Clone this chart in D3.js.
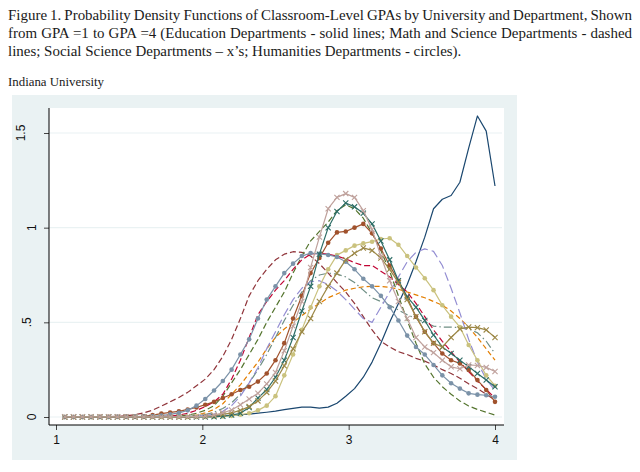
<!DOCTYPE html>
<html>
<head>
<meta charset="utf-8">
<script src="https://cdn.jsdelivr.net/npm/d3@7"></script>
<style>
  body { margin: 0; background: #fff; }
</style>
</head>
<body>
<div id="chart"></div>
<script>
// Classroom-level GPA densities, Indiana University. One array per department curve,
// all evaluated on the same GPA grid.
const captionLines = [
  "Figure 1. Probability Density Functions of Classroom-Level GPAs by University and Department, Shown",
  "from GPA =1 to GPA =4 (Education Departments - solid lines; Math and Science Departments - dashed",
  "lines; Social Science Departments \u2013 x\u2019s; Humanities Departments - circles)."
];
const panelTitle = "Indiana University";

const gpa = [1.06, 1.12, 1.18, 1.24, 1.30, 1.36, 1.42, 1.48, 1.54, 1.60,
  1.66, 1.72, 1.78, 1.84, 1.90, 1.96, 2.02, 2.08, 2.14, 2.20,
  2.26, 2.32, 2.38, 2.44, 2.50, 2.56, 2.62, 2.68, 2.74, 2.80,
  2.86, 2.92, 2.98, 3.04, 3.10, 3.16, 3.22, 3.28, 3.34, 3.40,
  3.46, 3.52, 3.58, 3.64, 3.70, 3.76, 3.82, 3.88, 3.94, 4.00];

// education (solid)
const eduA = [0, 0, 0, 0, 0, 0, 0, 0, 0, 0,
  0, 0, 0, 0, 0.001, 0.002, 0.003, 0.005, 0.007, 0.009,
  0.012, 0.015, 0.02, 0.025, 0.031, 0.039, 0.046, 0.052, 0.052, 0.047,
  0.052, 0.073, 0.11, 0.15, 0.21, 0.29, 0.39, 0.50, 0.60, 0.70,
  0.82, 0.95, 1.10, 1.15, 1.17, 1.24, 1.42, 1.59, 1.51, 1.22];

// math and science (dashed)
const sciA = [0, 0, 0, 0.001, 0.001, 0.002, 0.003, 0.006, 0.012, 0.022,
  0.036, 0.058, 0.08, 0.103, 0.13, 0.165, 0.20, 0.25, 0.32, 0.41,
  0.52, 0.64, 0.72, 0.78, 0.83, 0.86, 0.873, 0.87, 0.85, 0.81,
  0.76, 0.71, 0.66, 0.60, 0.53, 0.46, 0.40, 0.37, 0.345, 0.33,
  0.31, 0.295, 0.275, 0.25, 0.23, 0.205, 0.175, 0.15, 0.12, 0.09];
const sciB = [0, 0, 0, 0, 0, 0, 0, 0, 0, 0,
  0, 0, 0.002, 0.005, 0.01, 0.02, 0.035, 0.06, 0.11, 0.18,
  0.25, 0.33, 0.41, 0.50, 0.58, 0.66, 0.76, 0.85, 0.93, 0.98,
  1.03, 1.09, 1.12, 1.10, 1.05, 0.97, 0.88, 0.77, 0.64, 0.51,
  0.39, 0.28, 0.21, 0.16, 0.12, 0.085, 0.058, 0.04, 0.025, 0.01];
const sciC = [0, 0, 0, 0, 0, 0, 0, 0, 0, 0,
  0, 0, 0, 0, 0.004, 0.01, 0.022, 0.04, 0.07, 0.12,
  0.17, 0.23, 0.29, 0.36, 0.42, 0.465, 0.50, 0.535, 0.57, 0.60,
  0.63, 0.65, 0.67, 0.68, 0.688, 0.69, 0.69, 0.685, 0.675, 0.66,
  0.645, 0.63, 0.61, 0.59, 0.56, 0.52, 0.475, 0.42, 0.36, 0.30];
const sciD = [0, 0, 0, 0, 0, 0, 0, 0, 0, 0,
  0, 0, 0, 0, 0.003, 0.007, 0.013, 0.025, 0.045, 0.075,
  0.12, 0.18, 0.25, 0.33, 0.42, 0.51, 0.59, 0.66, 0.72, 0.75,
  0.76, 0.755, 0.74, 0.71, 0.67, 0.63, 0.61, 0.59, 0.565, 0.54,
  0.52, 0.50, 0.48, 0.475, 0.475, 0.472, 0.465, 0.445, 0.40, 0.335];
const sciE = [0, 0, 0, 0, 0, 0, 0, 0, 0, 0,
  0, 0.002, 0.005, 0.01, 0.02, 0.035, 0.055, 0.08, 0.12, 0.20,
  0.30, 0.42, 0.54, 0.61, 0.67, 0.72, 0.78, 0.83, 0.86, 0.865,
  0.86, 0.85, 0.835, 0.815, 0.80, 0.80, 0.77, 0.74, 0.70, 0.66,
  0.60, 0.53, 0.46, 0.40, 0.345, 0.29, 0.24, 0.19, 0.145, 0.10];
const sciF = [0, 0, 0, 0, 0, 0, 0, 0, 0, 0,
  0, 0, 0, 0, 0, 0.004, 0.008, 0.015, 0.03, 0.06,
  0.11, 0.18, 0.26, 0.36, 0.45, 0.54, 0.62, 0.68, 0.715, 0.72,
  0.70, 0.665, 0.62, 0.57, 0.52, 0.50, 0.58, 0.66, 0.74, 0.82,
  0.87, 0.888, 0.875, 0.80, 0.68, 0.55, 0.41, 0.29, 0.20, 0.14];

// humanities (circles)
const humA = [0, 0, 0, 0, 0, 0, 0, 0, 0, 0,
  0, 0, 0, 0, 0, 0, 0, 0.001, 0.003, 0.006,
  0.012, 0.02, 0.035, 0.06, 0.11, 0.22, 0.33, 0.46, 0.58, 0.69,
  0.78, 0.855, 0.88, 0.905, 0.917, 0.926, 0.94, 0.944, 0.91, 0.85,
  0.79, 0.733, 0.67, 0.59, 0.53, 0.475, 0.38, 0.30, 0.22, 0.165];
const humB = [0, 0, 0, 0, 0.001, 0.001, 0.001, 0.002, 0.002, 0.004,
  0.01, 0.018, 0.024, 0.03, 0.04, 0.05, 0.065, 0.08, 0.10, 0.12,
  0.143, 0.16, 0.187, 0.23, 0.30, 0.39, 0.52, 0.64, 0.76, 0.84,
  0.92, 0.975, 0.98, 1.0, 1.02, 0.97, 0.89, 0.80, 0.72, 0.63,
  0.53, 0.45, 0.39, 0.335, 0.30, 0.283, 0.248, 0.195, 0.143, 0.08];
const humC = [0, 0, 0, 0, 0, 0, 0.001, 0.001, 0.002, 0.003,
  0.004, 0.008, 0.014, 0.022, 0.035, 0.06, 0.095, 0.14, 0.19, 0.25,
  0.33, 0.41, 0.52, 0.62, 0.69, 0.76, 0.81, 0.85, 0.866, 0.862,
  0.856, 0.845, 0.82, 0.78, 0.73, 0.69, 0.64, 0.58, 0.51, 0.43,
  0.37, 0.33, 0.275, 0.22, 0.178, 0.15, 0.125, 0.118, 0.115, 0.107];

// social science (x's)
const socA = [0, 0, 0, 0, 0, 0, 0, 0, 0, 0,
  0, 0, 0, 0, 0, 0, 0, 0.001, 0.004, 0.01,
  0.02, 0.05, 0.10, 0.145, 0.21, 0.30, 0.42, 0.56, 0.69, 0.86,
  1.0, 1.085, 1.13, 1.11, 1.076, 1.02, 0.93, 0.83, 0.72, 0.635,
  0.58, 0.51, 0.433, 0.37, 0.336, 0.30, 0.266, 0.23, 0.195, 0.16];
const socB = [0, 0, 0, 0, 0, 0, 0, 0, 0, 0,
  0, 0, 0, 0, 0, 0.002, 0.004, 0.008, 0.014, 0.022,
  0.035, 0.055, 0.085, 0.13, 0.19, 0.27, 0.36, 0.45, 0.52, 0.61,
  0.69, 0.76, 0.83, 0.865, 0.893, 0.88, 0.84, 0.78, 0.71, 0.62,
  0.53, 0.45, 0.39, 0.37, 0.42, 0.465, 0.475, 0.472, 0.46, 0.42];
const socC = [0.001, 0.001, 0.001, 0.001, 0.001, 0.001, 0.001, 0.001, 0.001, 0.001,
  0.001, 0.001, 0.001, 0.001, 0.002, 0.002, 0.004, 0.01, 0.022, 0.037,
  0.065, 0.095, 0.125, 0.175, 0.235, 0.35, 0.48, 0.61, 0.79, 0.95,
  1.10, 1.16, 1.18, 1.16, 1.09, 0.99, 0.85, 0.72, 0.61, 0.52,
  0.42, 0.37, 0.34, 0.30, 0.265, 0.255, 0.275, 0.272, 0.262, 0.24];

const xTicks = [1, 2, 3, 4];
const yTicks = [0, 0.5, 1, 1.5];
const yTickLabels = ["0", ".5", "1", "1.5"];

// Stata s2color order; later entries are drawn on top
const series = [
  { values: eduA, color: "#1a476f", dash: null, marker: null },
  { values: sciA, color: "#90353b", dash: "6,3", marker: null },
  { values: sciB, color: "#55752f", dash: "6,3", marker: null },
  { values: sciC, color: "#e37e00", dash: "5,3", marker: null },
  { values: sciD, color: "#6e8e84", dash: "8,3,1.5,3", marker: null },
  { values: sciE, color: "#c10534", dash: "6,3", marker: null },
  { values: sciF, color: "#938dd2", dash: "9,4", marker: null },
  { values: humA, color: "#cac27e", dash: null, marker: "circle" },
  { values: humB, color: "#a0522d", dash: null, marker: "circle" },
  { values: humC, color: "#7b92a8", dash: null, marker: "circle" },
  { values: socA, color: "#2d6d66", dash: null, marker: "x" },
  { values: socB, color: "#9c8847", dash: null, marker: "x" },
  { values: socC, color: "#bfa19c", dash: null, marker: "x" }
];

const W = 640, H = 472;
const region = { x0: 12, y0: 95, x1: 517, y1: 460 };
const plot = { x0: 49, y0: 108, x1: 504, y1: 425 };
const bg = "#eaf2f3";

const svg = d3.select("#chart").append("svg").attr("width", W).attr("height", H)
  .style("display", "block");

// caption: fit the serif to the width of the last (unjustified) line,
// then justify the first two lines with word spacing
const capLeft = 8, capJustify = 624, capLast = 453;
const cap = svg.append("g").attr("font-family", "'Liberation Serif', 'Times New Roman', serif")
  .attr("fill", "#1a1a1a").attr("font-size", 14.2);
const capTexts = captionLines.map((t, i) =>
  cap.append("text").attr("y", 20 + i * 18).text(t));
const lastLen = capTexts[2].node().getComputedTextLength();
const sx = capLast / lastLen;
cap.attr("transform", `translate(${capLeft},0) scale(${sx},1)`);
capTexts.slice(0, 2).forEach((sel, i) => {
  const natural = sel.node().getComputedTextLength();
  const spaces = captionLines[i].split(" ").length - 1;
  sel.attr("word-spacing", (capJustify / sx - natural) / spaces);
});
svg.append("text").attr("x", 8).attr("y", 86)
  .attr("font-family", "'Liberation Serif', 'Times New Roman', serif")
  .attr("font-size", 12.5).attr("fill", "#1a1a1a")
  .attr("textLength", 96).attr("lengthAdjust", "spacingAndGlyphs").text(panelTitle);

// graph region and plot region
svg.append("rect").attr("x", region.x0).attr("y", region.y0)
  .attr("width", region.x1 - region.x0).attr("height", region.y1 - region.y0).attr("fill", bg);
svg.append("rect").attr("x", plot.x0).attr("y", plot.y0)
  .attr("width", plot.x1 - plot.x0).attr("height", plot.y1 - plot.y0).attr("fill", "#fff");

const x = d3.scaleLinear().domain([1, 4]).range([56, 495]);
const y = d3.scaleLinear().domain([0, 1.5]).range([417, 133]);

// gridlines
svg.append("g").selectAll("line").data(yTicks).join("line")
  .attr("x1", plot.x0).attr("x2", plot.x1 - 2)
  .attr("y1", (d) => y(d)).attr("y2", (d) => y(d))
  .attr("stroke", bg).attr("stroke-width", 1.2);

// curves
const line = d3.line().x((d, i) => x(gpa[i])).y((d) => y(d));
const gCurves = svg.append("g");
series.forEach((s) => {
  const g = gCurves.append("g");
  g.append("path").attr("d", line(s.values)).attr("fill", "none")
    .attr("stroke", s.color).attr("stroke-width", 1.2)
    .attr("stroke-linejoin", "round")
    .attr("stroke-dasharray", s.dash);
  if (s.marker === "circle") {
    g.selectAll("circle").data(s.values).join("circle")
      .attr("cx", (d, i) => x(gpa[i])).attr("cy", (d) => y(d))
      .attr("r", 2.3).attr("fill", s.color);
  } else if (s.marker === "x") {
    const k = 2.6;
    g.selectAll("path.mk").data(s.values).join("path").attr("class", "mk")
      .attr("d", (d, i) => {
        const cx = x(gpa[i]), cy = y(d);
        return `M${cx - k},${cy - k}L${cx + k},${cy + k}M${cx - k},${cy + k}L${cx + k},${cy - k}`;
      })
      .attr("stroke", s.color).attr("stroke-width", 1.1).attr("fill", "none");
  }
});

// axes
const axisFont = "'Liberation Sans', Arial, Helvetica, sans-serif";
const gy = svg.append("g").attr("transform", `translate(${plot.x0},0)`)
  .call(d3.axisLeft(y).tickValues(yTicks).tickSize(5).tickSizeOuter(0)
    .tickFormat(() => ""));
gy.select(".domain").remove();
gy.selectAll(".tick line").attr("stroke", "#444");
gy.append("line").attr("x1", 0).attr("x2", 0).attr("y1", plot.y0).attr("y2", plot.y1)
  .attr("stroke", "#000");
// rotated labels; Stata pushes the longer ones further from the axis
svg.append("g").selectAll("text").data(yTicks).join("text")
  .attr("transform", (d, i) =>
    `translate(${32 - (yTickLabels[i].length - 1) * 5.5},${y(d)}) rotate(-90)`)
  .attr("text-anchor", "middle").attr("dominant-baseline", "central")
  .attr("font-family", axisFont).attr("font-size", 12).attr("fill", "#111")
  .text((d, i) => yTickLabels[i]);

const gx = svg.append("g").attr("transform", `translate(0,${plot.y1})`)
  .call(d3.axisBottom(x).tickValues(xTicks).tickSize(5).tickSizeOuter(0)
    .tickFormat(d3.format("d")));
gx.select(".domain").remove();
gx.selectAll(".tick line").attr("stroke", "#444");
gx.selectAll(".tick text")
  .attr("font-family", axisFont).attr("font-size", 12).attr("fill", "#111")
  .attr("y", 10).attr("dy", "0.71em");
gx.append("line").attr("x1", plot.x0).attr("x2", plot.x1).attr("y1", 0).attr("y2", 0)
  .attr("stroke", "#000");
</script>
</body>
</html>
